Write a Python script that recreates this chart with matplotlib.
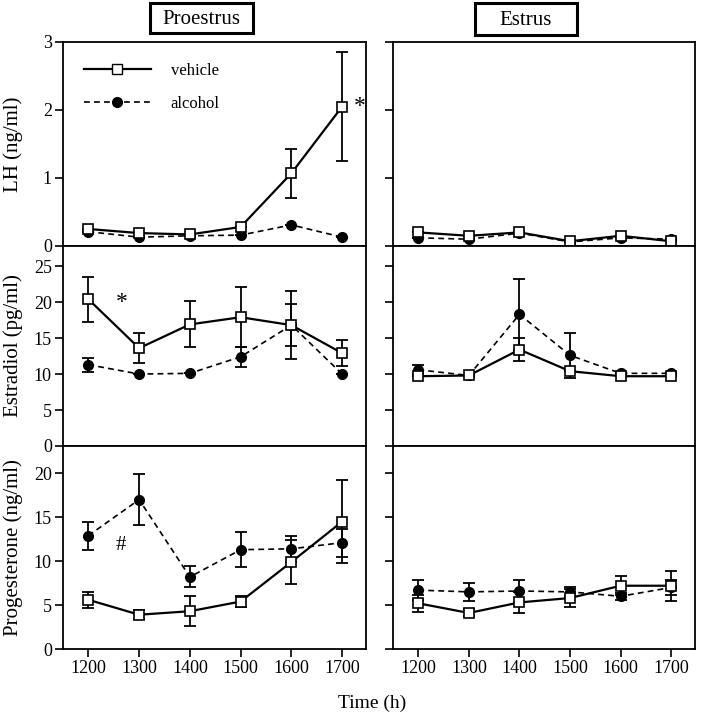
import matplotlib
matplotlib.use("Agg")
import matplotlib.pyplot as plt
from matplotlib.lines import Line2D
from matplotlib.patches import Rectangle

plt.rcParams['font.family'] = ['Liberation Serif', 'DejaVu Serif']

times = [1200, 1300, 1400, 1500, 1600, 1700]

# LH (ng/ml)
lh_pro_veh = [0.25, 0.19, 0.17, 0.28, 1.07, 2.05]
lh_pro_veh_err = [0, 0, 0, 0, 0.36, 0.8]
lh_pro_alc = [0.21, 0.13, 0.15, 0.16, 0.31, 0.13]
lh_pro_alc_err = [0, 0, 0, 0, 0, 0]
lh_est_veh = [0.2, 0.15, 0.2, 0.07, 0.15, 0.07]
lh_est_veh_err = [0, 0, 0, 0, 0, 0]
lh_est_alc = [0.12, 0.1, 0.19, 0.06, 0.12, 0.1]
lh_est_alc_err = [0, 0, 0, 0, 0, 0]

# Estradiol (pg/ml)
e2_pro_veh = [20.4, 13.6, 16.9, 17.9, 16.8, 12.9]
e2_pro_veh_err = [3.1, 2.1, 3.2, 4.2, 4.7, 1.8]
e2_pro_alc = [11.3, 10.0, 10.1, 12.4, 16.8, 10.0]
e2_pro_alc_err = [1.0, 0, 0, 1.4, 2.9, 0]
e2_est_veh = [9.7, 9.8, 13.4, 10.4, 9.7, 9.7]
e2_est_veh_err = [0, 0, 1.6, 0, 0, 0]
e2_est_alc = [10.6, 9.8, 18.3, 12.6, 10.1, 10.1]
e2_est_alc_err = [0.6, 0, 4.9, 3.1, 0, 0]

# Progesterone (ng/ml)
p4_pro_veh = [5.6, 3.9, 4.3, 5.4, 9.9, 14.5]
p4_pro_veh_err = [0.9, 0.5, 1.7, 0.6, 2.5, 4.7]
p4_pro_alc = [12.9, 17.0, 8.2, 11.3, 11.4, 12.1]
p4_pro_alc_err = [1.6, 2.9, 1.2, 2.0, 1.5, 1.6]
p4_est_veh = [5.2, 4.1, 5.3, 5.8, 7.2, 7.2]
p4_est_veh_err = [1.0, 0.4, 1.2, 1.0, 1.1, 1.7]
p4_est_alc = [6.7, 6.5, 6.6, 6.5, 6.0, 7.0]
p4_est_alc_err = [1.1, 1.0, 1.3, 0.5, 0.4, 0.9]

rows = [
    ("LH (ng/ml)", (0, 3.0), [0, 1, 2, 3],
     (lh_pro_veh, lh_pro_veh_err, lh_pro_alc, lh_pro_alc_err),
     (lh_est_veh, lh_est_veh_err, lh_est_alc, lh_est_alc_err)),
    ("Estradiol (pg/ml)", (0, 27.8), [0, 5, 10, 15, 20, 25],
     (e2_pro_veh, e2_pro_veh_err, e2_pro_alc, e2_pro_alc_err),
     (e2_est_veh, e2_est_veh_err, e2_est_alc, e2_est_alc_err)),
    ("Progesterone (ng/ml)", (0, 23.1), [0, 5, 10, 15, 20],
     (p4_pro_veh, p4_pro_veh_err, p4_pro_alc, p4_pro_alc_err),
     (p4_est_veh, p4_est_veh_err, p4_est_alc, p4_est_alc_err)),
]

W, H = 702, 720
fig = plt.figure(figsize=(W / 100, H / 100), dpi=100)

col_x = [(63, 366), (393, 695)]
row_y = [(42, 246), (246, 446), (446, 649)]


def draw(ax, vals):
    veh, veh_err, alc, alc_err = vals
    ax.errorbar(times, alc, yerr=alc_err, fmt='o', color='black', ms=7,
                capsize=4, elinewidth=1.3, capthick=1.3, zorder=2)
    ax.plot(times, alc, '--', color='black', lw=1.2, zorder=2, dashes=(3.5, 2.5))
    ax.errorbar(times, veh, yerr=veh_err, fmt='none', ecolor='black',
                capsize=4, elinewidth=1.3, capthick=1.3, zorder=3)
    ax.plot(times, veh, '-', color='black', lw=1.6, marker='s', ms=7.5,
            mfc='white', mec='black', mew=1.2, zorder=4)


axes = {}
for r, (ylab, ylim, yticks, pro, est) in enumerate(rows):
    for c, vals in enumerate([pro, est]):
        x0, x1 = col_x[c]
        y0, y1 = row_y[r]
        ax = fig.add_axes([x0 / W, 1 - y1 / H, (x1 - x0) / W, (y1 - y0) / H])
        draw(ax, vals)
        ax.set_xlim(1150, 1747)
        ax.set_ylim(*ylim)
        ax.set_yticks(yticks)
        ax.tick_params(direction='out', length=6, width=1.2, labelsize=13, pad=2)
        for s in ax.spines.values():
            s.set_linewidth(1.3)
        if c == 0:
            ax.set_ylabel(ylab, fontsize=15)
        else:
            ax.set_yticklabels([])
        if r == 2:
            ax.set_xticks(times)
            ax.set_xticklabels([str(t) for t in times])
        else:
            ax.set_xticks([])
        axes[(r, c)] = ax

# align y labels (coordinate is the right edge of the rotated text)
for r in range(3):
    axes[(r, 0)].yaxis.set_label_coords(-(63 - 23) / (366 - 63), 0.5)

# legend in LH proestrus panel
ax = axes[(0, 0)]
h_veh = Line2D([], [], color='black', lw=1.6, marker='s', ms=7.5, mfc='white', mec='black')
h_alc = Line2D([], [], color='black', lw=1.2, ls='--', dashes=(3.5, 2.5), marker='o', ms=7)
ax.legend([h_veh, h_alc], ['vehicle', 'alcohol'], loc='upper left', frameon=False,
          fontsize=12, handlelength=4, labelspacing=1.0, handletextpad=1.2,
          bbox_to_anchor=(0.02, 0.97))

# significance marks
axes[(0, 0)].text(1735, 2.05, '*', fontsize=17, ha='center', va='center')
axes[(1, 0)].text(1265, 20.0, '*', fontsize=17, ha='center', va='center')
axes[(2, 0)].text(1263, 11.8, '#', fontsize=15, ha='center', va='center')

# boxed column titles
for (bx0, bx1, by0, by1), label in [((150, 253, 3, 33), 'Proestrus'),
                                    ((475, 577, 3, 35), 'Estrus')]:
    fig.patches.append(Rectangle((bx0 / W, 1 - by1 / H), (bx1 - bx0) / W, (by1 - by0) / H,
                                 transform=fig.transFigure, fc='white', ec='black', lw=2.2))
    fig.text((bx0 + bx1) / 2 / W, 1 - (by0 + by1 + 3) / 2 / H, label, fontsize=15,
             ha='center', va='center')

fig.text(372 / W, 1 - 703 / H, 'Time (h)', fontsize=14, ha='center', va='center')

fig.savefig('out.png', dpi=100)
